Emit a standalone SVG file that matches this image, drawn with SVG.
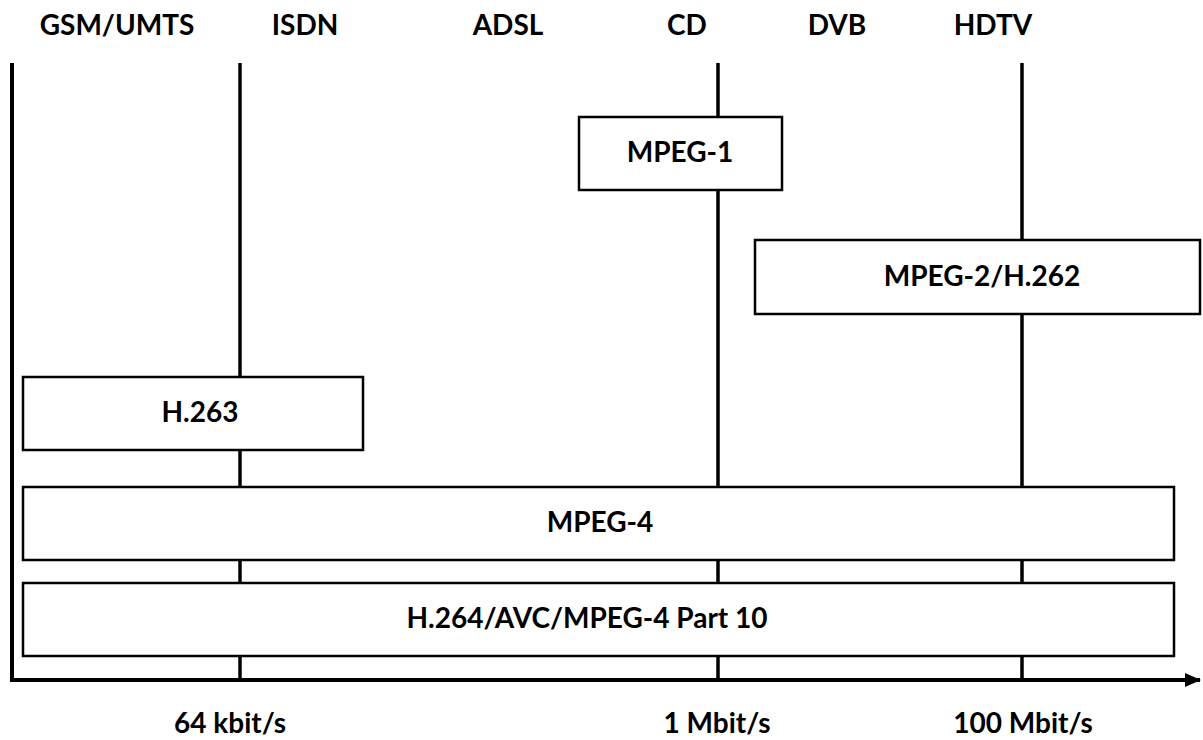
<svg xmlns="http://www.w3.org/2000/svg" width="1203" height="740" viewBox="0 0 1203 740">
<style>
text{font-family:Lato,"Open Sans","Liberation Sans",sans-serif;font-weight:bold;font-size:28px;fill:#000;text-anchor:middle}
.box{fill:#fff;stroke:#000;stroke-width:2.5}
.ax{stroke:#000;stroke-width:4;fill:none}
.tick{stroke:#000;stroke-width:3.5}
</style>
<defs>
<marker id="arr" markerWidth="16" markerHeight="14" refX="15" refY="7" orient="auto" markerUnits="userSpaceOnUse">
<path d="M0,0 L16,7 L0,14 Z" fill="#000"/>
</marker>
</defs>
<g id="connectors">
<line class="tick" x1="240" y1="63" x2="240" y2="680"/>
<line class="tick" x1="718" y1="63" x2="718" y2="680"/>
<line class="tick" x1="1022" y1="63" x2="1022" y2="680"/>
<path class="ax" d="M12,63 L12,680 L1200,680" marker-end="url(#arr)"/>
</g>
<g id="labels-top">
<text x="117" y="35">GSM/UMTS</text>
<text x="305" y="35">ISDN</text>
<text x="508" y="35">ADSL</text>
<text x="687" y="35">CD</text>
<text x="837" y="35">DVB</text>
<text x="993" y="35">HDTV</text>
</g>
<g id="labels-bottom">
<text x="230" y="733">64 kbit/s</text>
<text x="717" y="733">1 Mbit/s</text>
<text x="1023" y="733">100 Mbit/s</text>
</g>
<g id="mpeg1"><rect class="box" x="579" y="117" width="203" height="73"/><text x="680" y="162">MPEG-1</text></g>
<g id="mpeg2"><rect class="box" x="755" y="240" width="445" height="74"/><text x="982" y="286">MPEG-2/H.262</text></g>
<g id="h263"><rect class="box" x="23" y="377" width="340" height="73"/><text x="200" y="422">H.263</text></g>
<g id="mpeg4"><rect class="box" x="23" y="487" width="1151" height="73"/><text x="600" y="532">MPEG-4</text></g>
<g id="h264"><rect class="box" x="23" y="583" width="1151" height="73"/><text x="587" y="628">H.264/AVC/MPEG-4 Part 10</text></g>
</svg>
